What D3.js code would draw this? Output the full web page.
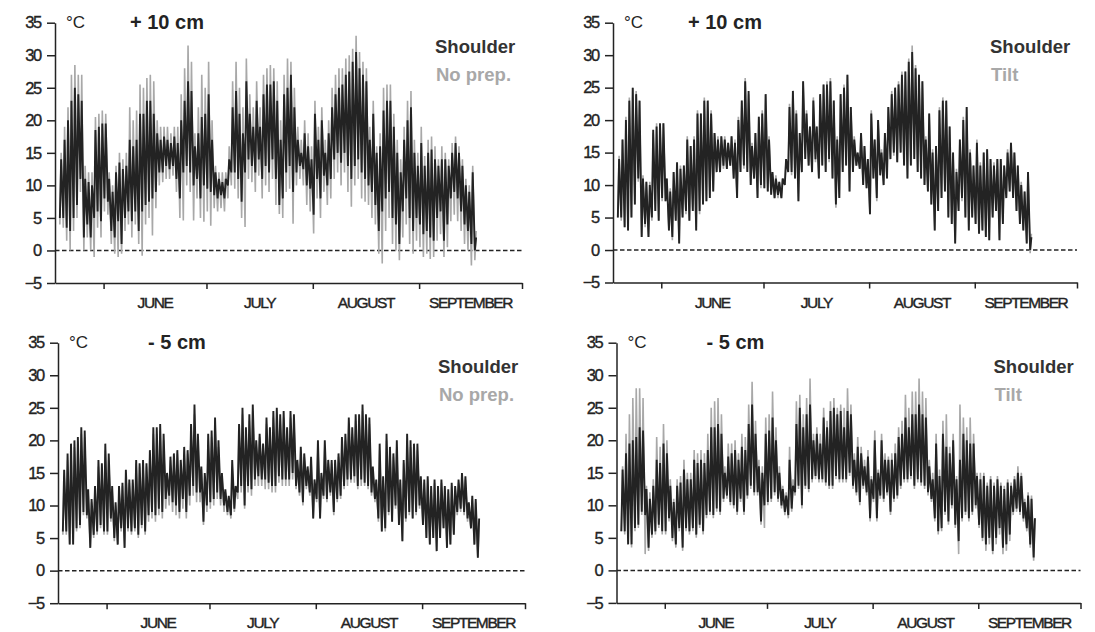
<!DOCTYPE html>
<html>
<head>
<meta charset="utf-8">
<script src="https://cdn.jsdelivr.net/npm/d3@7"></script>
<style>
  html, body { margin: 0; padding: 0; background: #ffffff; }
  svg text { font-family: "Liberation Sans", Arial, Helvetica, sans-serif; }
</style>
</head>
<body>
<svg id="chart" width="1095" height="632"></svg>
<script>
// Daily extremes of air (+10 cm) and soil (-5 cm) temperature, °C,
// one value per day starting 19 May.
const firstDay = [5, 19]; // month (1-12), day of month

const shoulder10Max = [14,17,20,23,25,24,23,11,10.5,10, 18.5,19,19.5,19.5,11,9,12,13.5,12.5,13,
  17,16,17,21,21,23,23,21,18,17, 17.5,17,16.5,17.5,16.5,20,23,26,24.5,16,
  18,20.5,21,24,17,12,11,10.5,11,14, 22,24.5,21,18,26,21,19,23,19,24,
  25.5,25.5,26,23,17,24,25,27,22,17, 15,18,16,14,21,17,20,15,18,22,
  24,25,25.5,27,27.5,29,30.5,28,27,26, 17,21,15,16,21.5,23,23,19,15,12,
  17,20,22,15,13,16.5,13,15,15.5,14, 13,14,14,13,15,16.5,15,13,10,9, 12,2];
const shoulder10Min = [5,5,3.5,3,5,7,11,2,4,2, 5,6,4.5,8,7.5,3,2,4.5,1,5,
  6,4.5,6,3,6,7,7.5,8,9,12, 12,13,12.5,13,11,8,12,13,12,10,
  11,8,10,9.5,9,8.5,8,8.5,8,10, 12,12,11,7.5,12,14,13,12,14,11,
  13,12,14,11,7,8,12,13,9,12, 13,12.5,10,9.5,5.5,11,8,11.5,10,11,
  14,15,13.5,15,13,11,13,14,12,11, 10,9,7,3,6,8,9,5,4,1,
  6,8,5,3,5,4,2.5,3,2,1.5, 5,6,1.5,4,8,9,8,6,4,3, 1,0];

const noPrep10Max = [15,19,22,27,28.5,27,27,13,12,12, 20.5,21,21.5,21,12,10,13,15,14,15,
  22,20,21.5,25.5,25,26.5,27,26,20,19, 19,19,18,19,19,24,28,31.5,29,18,
  22,27,25,29,20,13,12,12,12,16, 26,29,25,22,29.5,24,22,26,22,27,
  28,28.5,28,26,20,27,29.5,29,25,19, 17,20,18,16,23,19,22,17,20,25,
  27,28,28,29.5,30,31,33,30.5,29,28, 19,23,16,18,25,25.5,25.5,21,17,14,
  19,23,24.5,17,15,19,14.5,17,17.5,16, 14,16,15,14,16.5,17.5,16,14,11,10, 13,3];
const noPrep10Min = [4,3.5,1.5,0,3,5,9,0,2,0, -1,3.5,2,6,5.5,1,-0.5,-1,-0.5,3,
  4,2,4,1,-0.8,4,5,2.3,6.5,10, 10.5,11,11,11.5,9,5,4.6,10,9,4.6,
  8,5,4.4,6,3.8,6.5,6,6.5,6,8, 10,9.5,8,5,3.6,11,10.5,9,11.5,8,
  10,9,11,7,5.6,5,9,9.5,4.1,10, 11,10,7,6,2.6,8,5,9,7,8,
  11,12,10,12,9,6.7,10,11,8,7.5, 7,5,4,-0.5,-2,3,5,1,0,-1.5,
  2,4,1,-0.5,1.5,0.5,-1,-0.5,-1.3,-1, 1.5,2.5,-1,0.5,4.5,5.5,4.5,3,1,0, -2.3,-1.5];

const tilt10Max = [14.5,17,20.5,23.5,25,24.5,23,11.5,10.5,10.5, 18,19.5,19,19.5,11,9.5,12,13,13,13,
  17.5,16,17.5,21.5,21,23.5,23,21.5,18,17.5, 17.5,17.5,16.5,17.5,17,20.5,23,26.5,24,16.5,
  18,20.5,21.5,24,17.5,12,11.5,10.5,11,14, 22.5,24.5,21.5,18,26,21.5,19,23.5,19,24,
  25.5,26,26.5,23,17.5,24,25.5,27,22,17.5, 15,18,16,14,21.5,17,20,15.5,18,22,
  24.5,25,26,27.5,27.5,29.5,31.5,28.5,27,26, 17.5,21,15.5,16,22,23.5,23,19,15,12.5,
  17,20.5,22,15.5,13,17,13.5,15,15.5,14, 13.5,14,14,13,15.5,16.5,15,13,10.5,9, 12,2.5];
const tilt10Min = [5,4.5,3.5,3,5,7,10.5,2,3.5,2, 4.5,6,4.5,7.5,7.5,3,1.5,4.5,1,5,
  5.5,4.5,6,3,5.5,7,7.5,8,9,12, 12,12.5,12.5,13,11,8,12,12.5,12,10,
  11,8,9.5,9.5,9,8.5,8,8,8,10, 12,11.5,11,7.5,12,14,13,12,13.5,11,
  13,12,13.5,11,6.5,8,12,13,9,12, 13,12.5,10,9.5,5.5,11,7.5,11.5,10,11,
  14,14.5,13.5,15,13,11,13,14,12,11, 10,9,7,3,6,8,9,5,4,1,
  6,7.5,5,3,5,4,2.5,3,2,1.5, 5,6,1.5,4,8,9,8,6,4,3, 1,-0.5];

const shoulder5Max = [15.5,18,19.5,20,20.5,22,21.5,12.5,11,13, 17,16.5,19.5,18,13,10.5,13,13.5,15.5,14,
  14,17,16.5,17,16.5,18.5,22,22,22.5,21, 15,17.5,18,18.5,17,19,18.5,22.5,25.5,21,
  16,15,21,21.5,23.5,20,15,12.5,11.5,17, 13,22.5,25,22,24,25.5,20,21,19.5,23.5,
  22,24.5,25,24,24.5,22,24.5,24,17,19, 18,16,17.5,14,20,15,20,17,17,17,
  18,20.5,21,23.5,22,24,24,25.5,24,23.5, 16,14,19.5,14.5,21,19,18,20,14,17,
  21,20,19.5,19.5,14.5,14,14.5,13,14,13, 14,13,12.5,13.5,13,14,15,14.5,10.5,11.5, 11,8];
const shoulder5Min = [6,6,4,4,6.5,7,9,8.5,3.5,5.5, 6,7,6,6,8,5,4,6.5,3.5,6.5,
  6,6.5,5.5,7,6,8.5,9,8.5,9.5,9, 11,11.5,10.5,10,9,11,9,11.5,13,12,
  12,7.5,10,10.5,11,12,11,10,9,8.5, 9.5,12,13,10,13,12.5,14,14.5,14,14,
  13.5,13,13,14.5,14,14,14,15,13,12, 10.5,13,12,8,11,8,11.5,11,12,9,
  11,11.5,13,14,14,14.5,13,14,13.5,13, 12,11,8,6,6.5,9,7.5,10,7,4.5,
  8,9,8,9,10,7,5,4,5,3, 5,6.5,3.5,4,5.5,9,9.5,9,8,6.5, 4,2];

const noPrep5Max = [14.5,17,18.5,19,19.5,21,20.5,12,10.5,12.5, 16,16,18.5,17,12.5,10,12.5,13,15,13.5,
  13.5,16.5,16,16.5,16,18,21,21,21.5,20, 14.5,17,17,18,16.5,18,18,21.5,24,20,
  15.5,14.5,20,20.5,22.5,19,14.5,12,11,16, 12.5,21.5,24,21,23,24.5,19.5,20.5,19,22.5,
  21,23.5,24,23,23.5,21,23.5,23,16.5,18.5, 17.5,15.5,17,13.5,19,14.5,19,16.5,16.5,16.5,
  17.5,19.5,20,22.5,21,23,23,24.5,23,22.5, 15.5,13.5,18.5,14,20,18.5,17.5,19,13.5,16.5,
  20,19,19,18.5,14,13.5,14,12.5,13.5,12.5, 13.5,12.5,12,13,12.5,13.5,14.5,14,10,11, 10.5,7.5];
const noPrep5Min = [5.5,5.5,4,4,6,6.5,8.5,8,3.5,5, 5.5,6.5,5.5,5.5,7.5,4.5,4,6,3.5,6,
  5.5,6,5,6.5,5.5,7.5,8,7.5,8.5,8, 9.5,10,9,8.5,8,9.5,8,10,11.5,10.5,
  10.5,7,9,9.5,10,11,10,9,8.5,8, 9,11,12,9.5,12,11.5,13,13,13,12.5,
  12.5,12,12,13.5,13,13,13,14,12.5,11.5, 10,12.5,11.5,8,10.5,8,11,10.5,11.5,8.5,
  10.5,11,12.5,13,13.5,13.5,12.5,13,13,12.5, 11.5,10.5,7.5,6,6,8.5,7.5,9.5,7,4.5,
  7.5,8.5,8,8.5,9.5,7,5,4,5,3, 5,6.5,3.5,4,5.5,8.5,9,8.5,7.5,6.5, 4,2];

const tilt5Max = [16,21,24,26.5,28,28,26.5,13,12,14, 20.5,19,22.5,20,14,11,14,14.5,17,15,
  15,18.5,18,18.5,18,21,25,26,26.5,24, 16,19.5,19.5,20,18,21,20.5,25.5,29,23,
  17,16,23.5,24,27.5,22,16,13,12,19, 14,26,27,24,26.5,29.5,21,22,21,25,
  23,26,26.5,25,25.5,25,28,25.5,18,20.5, 19,17,18.5,14.5,21.5,15.5,21,18,17.5,18,
  19.5,22,23,27,25,27.5,27.5,29.5,27.5,26.5, 17,15,21,15.5,23,24,19,21,14.5,25.5,
  23.5,22,23.5,21,15,15,15,13.5,14.5,13.5, 14.5,13.5,13,14,13.5,14.5,16,15,11,12, 11.5,8];
const tilt5Min = [6,5.5,4,3.5,6,6.5,8.5,2.5,3,5, 5.5,6.5,5.5,5.5,7.5,4.5,3.5,6,3,6,
  5.5,6,5,6.5,5.5,8,8.5,8,9,8.5, 10.5,11,10,9.5,8.5,10.5,8.5,11,12.5,11.5,
  11.5,7,6.5,10,10.5,11.5,10.5,9.5,8.5,8, 9,11.5,12.5,9.5,12.5,12,13.5,14,13.5,13.5,
  13,12.5,12.5,14,13.5,13.5,13.5,14.5,12.5,11.5, 10,12.5,11.5,7.5,10.5,7.5,11,10.5,11.5,8.5,
  10.5,11,12.5,13.5,13.5,14,12.5,13.5,13,12.5, 11.5,10.5,7.5,5.5,6,8.5,7,9.5,6.5,2.5,
  7.5,8.5,7.5,8.5,9.5,6.5,4.5,3,4,2.5, 4,5.5,2.5,3,4.5,8.5,9,8.5,7.5,6, 3.5,1.5];

const yTicks = [-5, 0, 5, 10, 15, 20, 25, 30, 35];
const monthStarts = [[6, 1], [7, 1], [8, 1], [9, 1], [10, 1]];
const monthLabels = ["JUNE", "JULY", "AUGUST", "SEPTEMBER"];
const depthLabels = ["+ 10 cm", "- 5 cm"];
const seriesNames = ["Shoulder", "No prep.", "Tilt"];

const YEAR = 2001;
const day = (m, d, h = 0) => new Date(Date.UTC(YEAR, m - 1, d, h));

// daily extremes -> a trace: minimum early in the morning, maximum in the afternoon
function trace(mins, maxs) {
  const start = day(firstDay[0], firstDay[1]);
  const pts = [];
  for (let i = 0; i < mins.length; i++) {
    pts.push({ t: d3.utcHour.offset(start, i * 24 + 6), v: mins[i] });
    pts.push({ t: d3.utcHour.offset(start, i * 24 + 15), v: maxs[i] });
  }
  return pts;
}

const panels = [
  { x0: 55,  x1: 522,  y0: 22.7,  y1: 283,   depth: depthLabels[0], depthDx: 75,
    dark: trace(shoulder10Min, shoulder10Max), light: trace(noPrep10Min, noPrep10Max), lightName: seriesNames[1] },
  { x0: 613, x1: 1077, y0: 22.7,  y1: 282.5, depth: depthLabels[0], depthDx: 75,
    dark: trace(shoulder10Min, shoulder10Max), light: trace(tilt10Min, tilt10Max), lightName: seriesNames[2] },
  { x0: 58,  x1: 525,  y0: 342.7, y1: 603.2, depth: depthLabels[1], depthDx: 90,
    dark: trace(shoulder5Min, shoulder5Max), light: trace(noPrep5Min, noPrep5Max), lightName: seriesNames[1] },
  { x0: 616.5, x1: 1080.5, y0: 342.7, y1: 602.9, depth: depthLabels[1], depthDx: 90,
    dark: trace(shoulder5Min, shoulder5Max), light: trace(tilt5Min, tilt5Max), lightName: seriesNames[2] }
];

const DARK = "#232323";
const LIGHT = "#a8a8a8";
const svg = d3.select("#chart");

const ticksT = monthStarts.map(([m, d]) => day(m, d));
const domainStart = day(5, 17, 20);

panels.forEach(p => {
  const g = svg.append("g");
  const x = d3.scaleUtc()
    .domain([domainStart, ticksT[ticksT.length - 1]])
    .range([p.x0, p.x1]);
  const y = d3.scaleLinear().domain([-5, 35]).range([p.y1, p.y0]);

  const line = d3.line().x(d => x(d.t)).y(d => y(d.v));

  // zero reference
  g.append("line")
    .attr("x1", p.x0).attr("x2", p.x1)
    .attr("y1", y(0)).attr("y2", y(0))
    .attr("stroke", DARK).attr("stroke-width", 1.5)
    .attr("stroke-dasharray", "4.5,2.5");

  // compared treatment behind, shoulder on top
  g.append("path").datum(p.light)
    .attr("d", line).attr("fill", "none")
    .attr("stroke", LIGHT).attr("stroke-width", 1.6);
  g.append("path").datum(p.dark)
    .attr("d", line).attr("fill", "none")
    .attr("stroke", DARK).attr("stroke-width", 1.9);

  // y axis
  const ya = g.append("g").attr("transform", `translate(${p.x0},0)`)
    .call(d3.axisLeft(y).tickValues(yTicks).tickSize(8).tickSizeOuter(0).tickPadding(6)
      .tickFormat(d => d < 0 ? "\u2212" + Math.abs(d) : String(d)));
  ya.select(".domain").attr("stroke", DARK).attr("stroke-width", 1.5);
  ya.selectAll(".tick line").attr("stroke", DARK).attr("stroke-width", 1.5);
  ya.selectAll(".tick text").attr("fill", DARK).attr("font-size", 16.5)
    .attr("letter-spacing", "-1.3px").attr("stroke", DARK).attr("stroke-width", 0.35)
    .attr("font-family", "'Liberation Sans', Arial, sans-serif");

  // x axis
  const xa = g.append("g").attr("transform", `translate(0,${p.y1})`)
    .call(d3.axisBottom(x).tickValues(ticksT).tickSize(6).tickSizeOuter(0).tickFormat(""));
  xa.select(".domain").attr("stroke", DARK).attr("stroke-width", 1.5);
  xa.selectAll(".tick line").attr("stroke", DARK).attr("stroke-width", 1.5);

  monthLabels.forEach((lab, i) => {
    g.append("text")
      .attr("x", (x(ticksT[i]) + x(ticksT[i + 1])) / 2)
      .attr("y", p.y1 + 25)
      .attr("text-anchor", "middle")
      .attr("font-size", 15.5).attr("letter-spacing", "-1.4px")
      .attr("stroke", DARK).attr("stroke-width", 0.4)
      .attr("fill", DARK).text(lab);
  });

  // unit and depth
  g.append("text").attr("x", p.x0 + 11).attr("y", p.y0 + 5)
    .attr("font-size", 17).attr("fill", DARK).text("\u00B0C");
  g.append("text").attr("x", p.x0 + p.depthDx).attr("y", p.y0 + 6)
    .attr("font-size", 20).attr("font-weight", "bold").attr("fill", DARK).text(p.depth);

  // series key
  g.append("text").attr("x", p.x1 - 87).attr("y", p.y0 + 30.5)
    .attr("font-size", 18.5).attr("font-weight", "bold").attr("fill", "#333333").text(seriesNames[0]);
  g.append("text").attr("x", p.x1 - 86).attr("y", p.y0 + 58)
    .attr("font-size", 18.5).attr("font-weight", "bold").attr("fill", LIGHT).text(p.lightName);
});
</script>
</body>
</html>
